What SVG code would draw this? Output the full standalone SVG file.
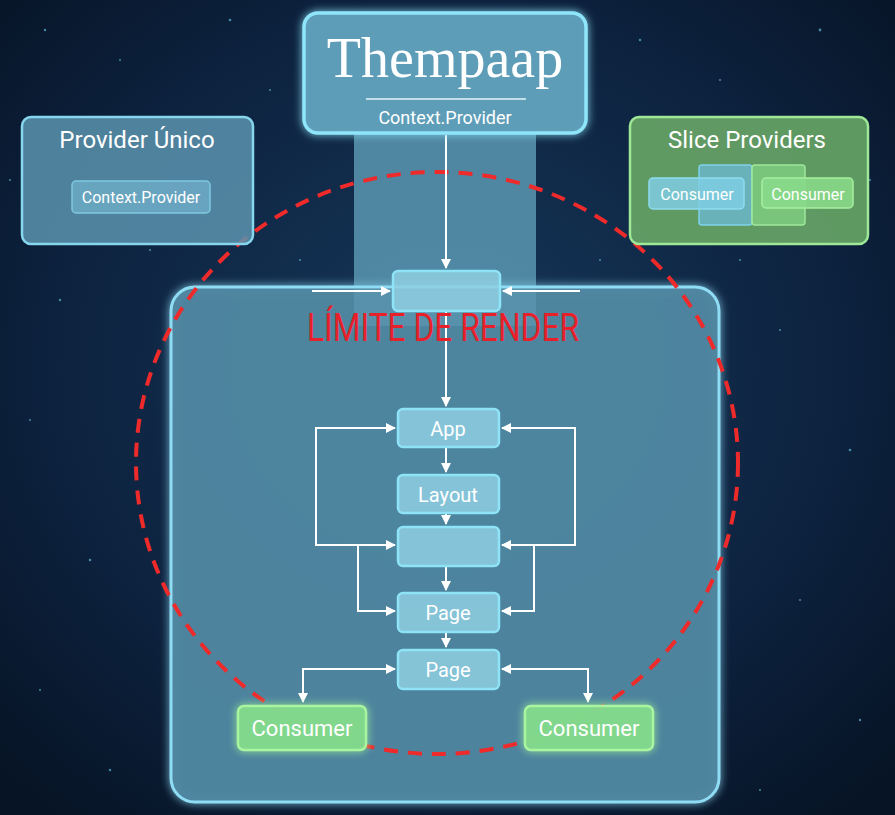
<svg xmlns="http://www.w3.org/2000/svg" width="895" height="815" viewBox="0 0 895 815">
<defs>
<radialGradient id="bg" cx="50%" cy="45%" r="70%">
<stop offset="0" stop-color="#17385a"/>
<stop offset="0.6" stop-color="#0d2340"/>
<stop offset="1" stop-color="#071426"/>
</radialGradient>
<filter id="glow" x="-20%" y="-30%" width="140%" height="160%">
<feGaussianBlur stdDeviation="4" result="b"/>
<feMerge><feMergeNode in="b"/><feMergeNode in="SourceGraphic"/></feMerge>
</filter>
<marker id="ah" viewBox="0 0 10 10" refX="9" refY="5" markerWidth="10" markerHeight="10" markerUnits="userSpaceOnUse" orient="auto">
<path d="M0,0 L10,5 L0,10 z" fill="#ffffff"/>
</marker>
<marker id="ahs" viewBox="0 0 10 10" refX="1" refY="5" markerWidth="10" markerHeight="10" markerUnits="userSpaceOnUse" orient="auto">
<path d="M10,0 L0,5 L10,10 z" fill="#ffffff"/>
</marker>
</defs>
<style>
.lbl{font-family:Roboto,"Liberation Sans",sans-serif;fill:#ffffff;text-anchor:middle}
.node{fill:#8fcfe2;fill-opacity:0.85;stroke:#8fe3f7;stroke-width:2.5}
.green{fill:#82d88c;fill-opacity:0.9;stroke:#a9f4a0;stroke-width:2.5}
.conn{stroke:#ffffff;stroke-width:2;fill:none}
</style>
<rect width="895" height="815" fill="url(#bg)"/>
<g id="stars" fill="#6fd2f0" fill-opacity="0.6">
<circle cx="45" cy="30" r="1.2"/><circle cx="120" cy="60" r="1"/><circle cx="230" cy="20" r="1.3"/><circle cx="270" cy="90" r="1"/>
<circle cx="640" cy="40" r="1.2"/><circle cx="720" cy="80" r="1"/><circle cx="820" cy="30" r="1.4"/><circle cx="870" cy="180" r="1"/>
<circle cx="60" cy="300" r="1.2"/><circle cx="30" cy="420" r="1"/><circle cx="90" cy="560" r="1.3"/><circle cx="40" cy="690" r="1"/>
<circle cx="110" cy="770" r="1.2"/><circle cx="780" cy="330" r="1"/><circle cx="850" cy="450" r="1.3"/><circle cx="800" cy="600" r="1"/>
<circle cx="860" cy="720" r="1.2"/><circle cx="760" cy="790" r="1"/><circle cx="10" cy="180" r="1"/><circle cx="300" cy="260" r="1"/>
<circle cx="600" cy="260" r="1"/><circle cx="150" cy="250" r="1"/><circle cx="740" cy="260" r="1"/>
</g>
<rect x="354" y="133" width="182" height="193" fill="#5f9db8" fill-opacity="0.8"/>
<g id="container">
<rect x="171" y="287" width="548" height="515" rx="24" fill="#4f86a0" fill-opacity="0.85" stroke="#8fdcf5" stroke-width="3" filter="url(#glow)"/>
</g>
<rect x="354" y="288" width="182" height="38" fill="#6aa5bf" fill-opacity="0.35"/>
<g id="render-boundary">
<ellipse cx="437" cy="463" rx="301" ry="291" fill="none" stroke="#ee2a2a" stroke-width="4" stroke-dasharray="14 10"/>
</g>
<g id="connectors">
<line class="conn" x1="446" y1="135" x2="446" y2="268" marker-end="url(#ah)"/>
<line class="conn" x1="312" y1="291" x2="390" y2="291" marker-end="url(#ah)"/>
<line class="conn" x1="580" y1="291" x2="503" y2="291" marker-end="url(#ah)"/>
<line class="conn" x1="446" y1="312" x2="446" y2="406" marker-end="url(#ah)"/>
<line class="conn" x1="446" y1="448" x2="446" y2="472" marker-end="url(#ah)"/>
<line class="conn" x1="446" y1="514" x2="446" y2="524" marker-end="url(#ah)"/>
<line class="conn" x1="446" y1="567" x2="446" y2="590" marker-end="url(#ah)"/>
<line class="conn" x1="446" y1="633" x2="446" y2="647" marker-end="url(#ah)"/>
<polyline class="conn" points="395,428 316,428 316,545 395,545" marker-start="url(#ahs)" marker-end="url(#ah)"/>
<polyline class="conn" points="502,428 575,428 575,545 502,545" marker-start="url(#ahs)" marker-end="url(#ah)"/>
<polyline class="conn" points="358,545 358,611 395,611" marker-end="url(#ah)"/>
<polyline class="conn" points="534,545 534,611 502,611" marker-end="url(#ah)"/>
<polyline class="conn" points="395,669 303,669 303,702" marker-start="url(#ahs)" marker-end="url(#ah)"/>
<polyline class="conn" points="502,669 588,669 588,702" marker-start="url(#ahs)" marker-end="url(#ah)"/>
</g>
<g id="themeapp">
<rect x="304" y="13" width="282" height="120" rx="14" fill="#5e9db8" fill-opacity="0.9" stroke="#8fe6fa" stroke-width="3.5" filter="url(#glow)"/>
<text x="445" y="77" font-family="'Liberation Serif','DejaVu Serif',serif" font-size="56" fill="#ffffff" text-anchor="middle">Thempaap</text>
<line x1="366" y1="99" x2="526" y2="99" stroke="#e6f6fb" stroke-width="1.5"/>
<text class="lbl" x="445" y="124" font-size="18">Context.Provider</text>
</g>
<g id="provider-unico">
<rect x="22" y="117" width="231" height="127" rx="9" fill="#5a93ae" fill-opacity="0.85" stroke="#86d6ee" stroke-width="2.5"/>
<text class="lbl" x="137" y="148" font-size="24">Provider Único</text>
<rect x="72" y="181" width="138" height="32" rx="4" fill="#6aa7c2" fill-opacity="0.9" stroke="#7fc7df" stroke-width="1.5"/>
<text class="lbl" x="141" y="203" font-size="16">Context.Provider</text>
</g>
<g id="slice-providers">
<rect x="630" y="117" width="238" height="127" rx="9" fill="#67a466" fill-opacity="0.92" stroke="#9ee898" stroke-width="2.5"/>
<text class="lbl" x="747" y="148" font-size="24">Slice Providers</text>
<rect x="699" y="165" width="53" height="60" rx="3" fill="#6cb8cf" fill-opacity="0.8" stroke="#7fd2ea" stroke-width="1.5"/>
<rect x="752" y="165" width="53" height="60" rx="3" fill="#7fcf82" fill-opacity="0.8" stroke="#9fe79a" stroke-width="1.5"/>
<rect x="649" y="178" width="95" height="31" rx="4" fill="#7fcde2" fill-opacity="0.85" stroke="#8fdcf0" stroke-width="1.5"/>
<text class="lbl" x="697" y="200" font-size="16">Consumer</text>
<rect x="762" y="178" width="91" height="30" rx="4" fill="#88d98a" fill-opacity="0.9" stroke="#a6ef9f" stroke-width="1.5"/>
<text class="lbl" x="808" y="200" font-size="16">Consumer</text>
</g>
<g id="boundary-node">
<rect class="node" x="393" y="271" width="107" height="40" rx="5"/>
</g>
<text x="443" y="341" font-family="Roboto,'Liberation Sans',sans-serif" font-size="38" fill="#e8202a" text-anchor="middle" textLength="272" lengthAdjust="spacingAndGlyphs">LÍMITE DE RENDER</text>
<g id="app">
<rect class="node" x="398" y="409" width="101" height="38" rx="5"/>
<text class="lbl" x="448" y="436" font-size="20">App</text>
</g>
<g id="layout">
<rect class="node" x="398" y="475" width="101" height="38" rx="5"/>
<text class="lbl" x="448" y="502" font-size="20">Layout</text>
</g>
<g id="blank">
<rect class="node" x="398" y="527" width="101" height="39" rx="5"/>
</g>
<g id="page1">
<rect class="node" x="398" y="593" width="101" height="39" rx="5"/>
<text class="lbl" x="448" y="620" font-size="20">Page</text>
</g>
<g id="page2">
<rect class="node" x="398" y="650" width="101" height="39" rx="5"/>
<text class="lbl" x="448" y="677" font-size="20">Page</text>
</g>
<g id="consumer-left">
<rect class="green" x="238" y="706" width="128" height="44" rx="6" filter="url(#glow)"/>
<text class="lbl" x="302" y="736" font-size="22">Consumer</text>
</g>
<g id="consumer-right">
<rect class="green" x="525" y="706" width="128" height="44" rx="6" filter="url(#glow)"/>
<text class="lbl" x="589" y="736" font-size="22">Consumer</text>
</g>
</svg>
